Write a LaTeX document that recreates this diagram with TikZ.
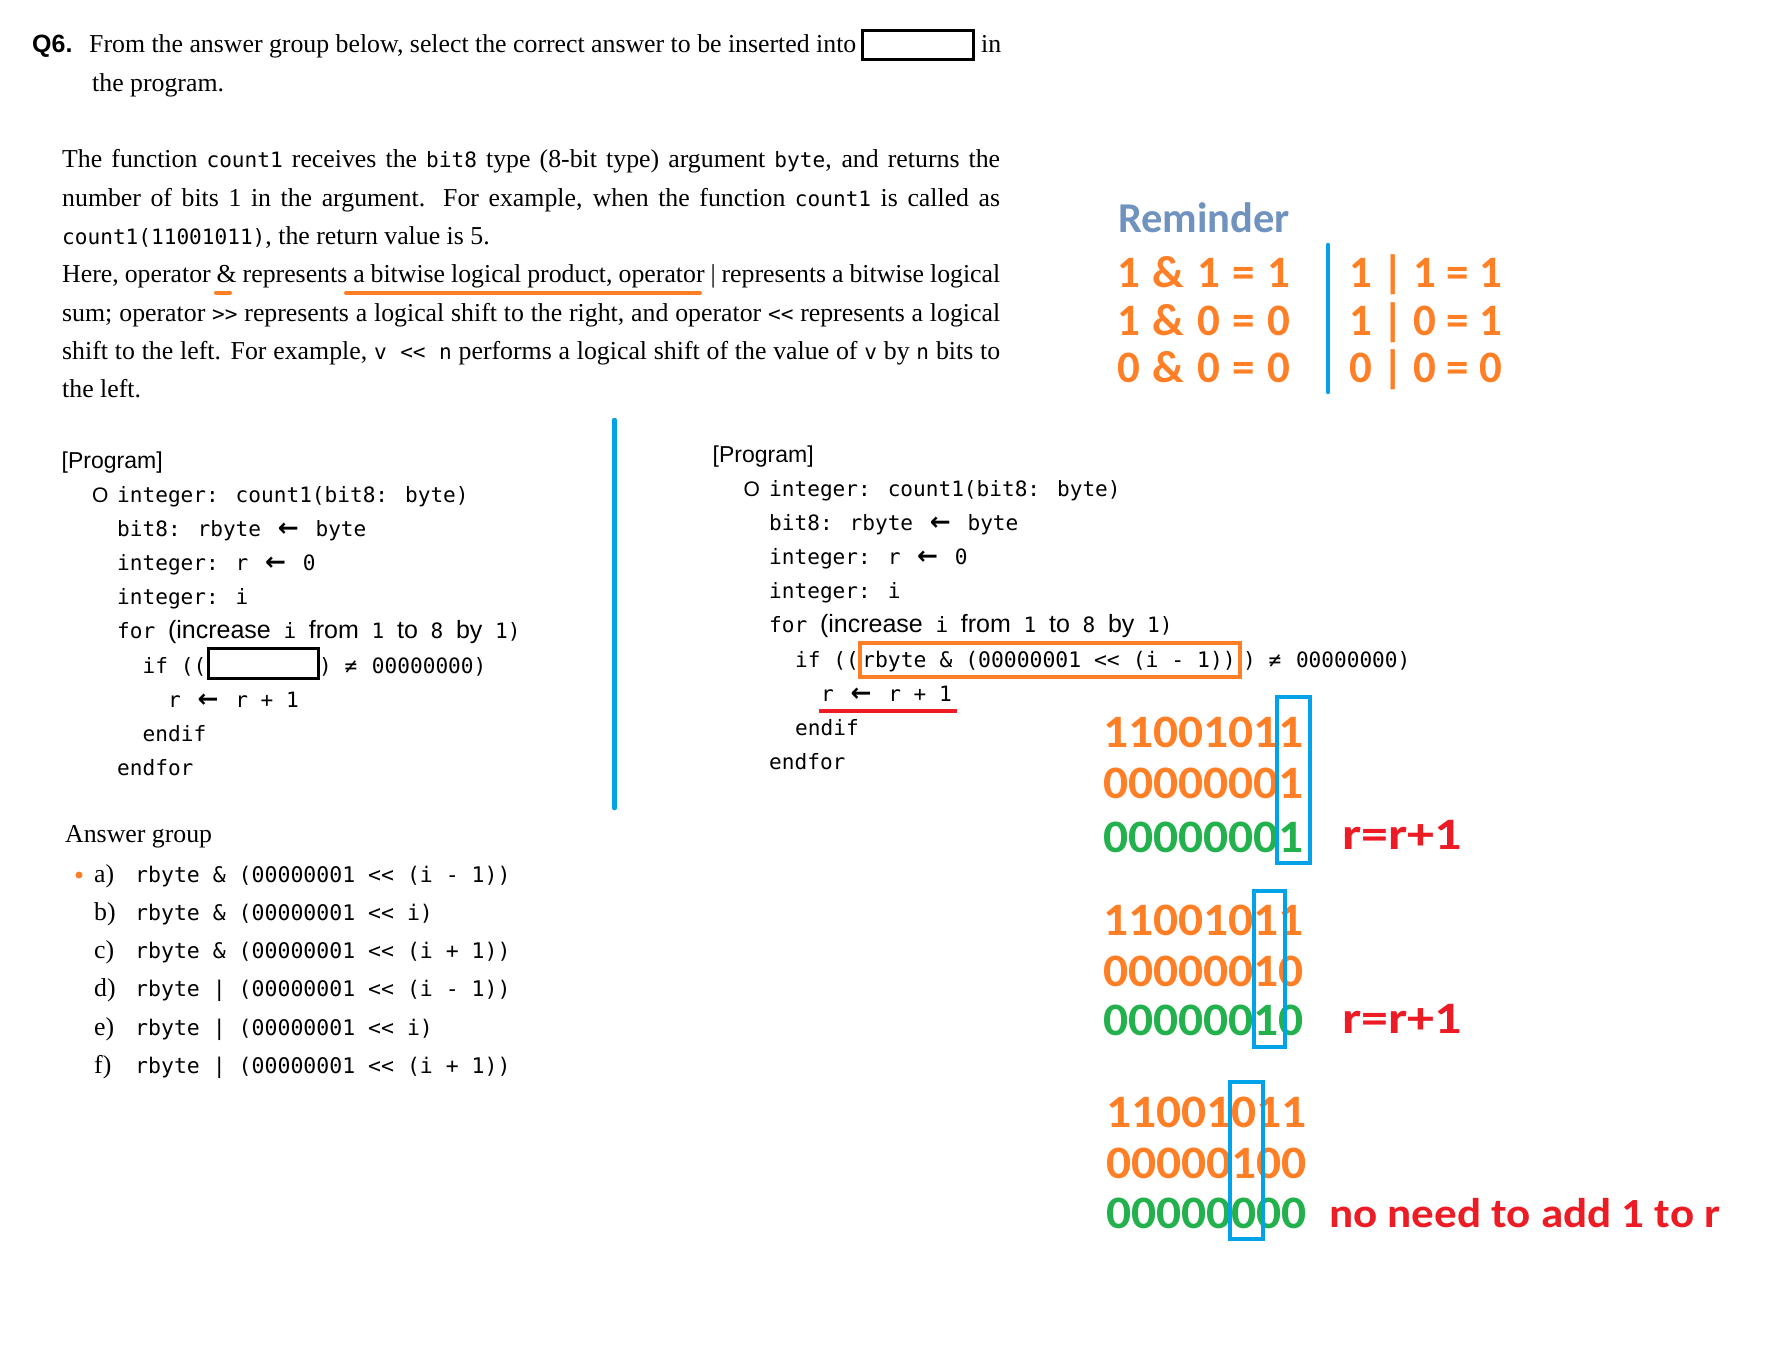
\documentclass[tikz,border=0pt]{standalone}
\usepackage{fontspec}
\setmainfont{Liberation Serif}
\newfontfamily\codefont{DejaVu Sans Mono}
\newfontfamily\arialfont{Liberation Sans}
\newfontfamily\arrowfont{DejaVu Sans}
\newfontfamily\calfont{Carlito}
\newfontfamily\calbits{Carlito}[FakeStretch=1.065]
\newfontfamily\calnote{Carlito}[FakeStretch=1.2]
\newfontfamily\calnotetwo{Carlito}[FakeStretch=1.085]
\definecolor{porange}{RGB}{255,127,39}
\definecolor{pblue}{RGB}{0,162,232}
\definecolor{pgreen}{RGB}{34,177,76}
\definecolor{pred}{RGB}{237,28,36}
\definecolor{pbluegray}{RGB}{112,146,190}
\newcommand\tsz{\fontsize{25.8}{30}\selectfont}
\newcommand\csz{\fontsize{21.1}{25}\selectfont}
\newcommand\mcode[1]{{\codefont\csz #1}}
\newcommand\msans[1]{{\arialfont\fontsize{25}{27}\selectfont #1}}
\newcommand\dlt{<\kern0pt<}
\newcommand\dgt{>\kern0pt>}
\newcommand\larr{\makebox[29pt]{\arrowfont\bfseries\fontsize{25}{26}\selectfont ←}}
\newcommand\rsp{\hspace{12.7pt}}
\tikzset{
 txt/.style={anchor=base west, inner sep=0pt, font=\tsz},
 code/.style={anchor=base west, inner sep=0pt, font=\codefont\csz},
 anscode/.style={code, font=\codefont\fontsize{21.5}{25}\selectfont},
 sanslbl/.style={anchor=base west, inner sep=0pt, font=\arialfont\fontsize{23}{26}\selectfont},
 circ/.style={anchor=base west, inner sep=0pt, font=\arialfont\fontsize{21}{24}\selectfont},
 qlbl/.style={anchor=base west, inner sep=0pt, font=\arialfont\bfseries\fontsize{25}{28}\selectfont},
 remtitle/.style={anchor=base west, inner sep=0pt, font=\calfont\bfseries\fontsize{42.5}{46}\selectfont, text=pbluegray},
 remind/.style={anchor=base west, inner sep=0pt, font=\calfont\bfseries\fontsize{45}{50}\selectfont, text=porange},
 bitso/.style={anchor=base west, inner sep=0pt, font=\calbits\bfseries\fontsize{46.5}{52}\selectfont, text=porange},
 bitsg/.style={bitso, text=pgreen},
 note/.style={anchor=base west, inner sep=0pt, font=\calnote\bfseries\fontsize{45}{54}\selectfont, text=pred},
 note2/.style={note, font=\calnotetwo\bfseries\fontsize{41.5}{48}\selectfont},
 blank/.style={draw=black, line width=3pt},
 colbox/.style={draw=pblue, line width=3.8pt},
 obox/.style={draw=porange, line width=3.5pt},
 oline/.style={draw=porange, line width=4pt, line cap=round},
 rline/.style={draw=pred, line width=3.5pt},
 divider/.style={draw=pblue, line width=4.5pt, line cap=round},
}
\begin{document}
\begin{tikzpicture}[x=1pt,y=-1pt]
\fill[white] (0,0) rectangle (1784,1372);
\useasboundingbox (0,0) rectangle (1784,1372);

% ---- Question line
\node[qlbl] (q6) at (32,53) {Q6.};
\node[txt] (q1) at (89,53) {From the answer group below, select the correct answer to be inserted into};
\draw[blank] (862,31) rectangle (973,60);
\node[txt] (qin) at (981,53) {in};
\node[txt] (q2) at (92,92) {the program.};

% ---- Body text
\node[txt] (b1) at (62,168) {\makebox[938pt][s]{The function \mcode{count1} receives the \mcode{bit8} type (8-bit type) argument \mcode{byte}, and returns the}};
\node[txt] (b2) at (62,206.3) {\makebox[938pt][s]{number of bits 1 in the argument. For example, when the function \mcode{count1} is called as}};
\node[txt] (b3) at (62,244.6) {\mcode{count1(11001011)}, the return value is 5.};
\node[txt] (b4) at (62,282.9) {\makebox[938pt][s]{Here, operator \& represents a bitwise logical product, operator | represents a bitwise logical}};
\node[txt] (b5) at (62,321.2) {\makebox[938pt][s]{sum; operator \mcode{\dgt} represents a logical shift to the right, and operator \mcode{\dlt} represents a logical}};
\node[txt] (b6) at (62,359.5) {\makebox[938pt][s]{shift to the left. For example, \mcode{v \dlt{} n} performs a logical shift of the value of \mcode{v} by \mcode{n} bits to}};
\node[txt] (b7) at (62,397.8) {the left.};
\draw[oline] (216,292.5) -- (230,292.5);
\draw[oline] (346,293) -- (700,293);

% ---- Reminder
\node[remtitle] (rem) at (1118,233) {Reminder};
\node[remind] (a1) at (1117,287) {1\rsp\&\rsp1\rsp=\rsp1};
\node[remind] (a2) at (1117,335) {1\rsp\&\rsp0\rsp=\rsp0};
\node[remind] (a3) at (1117,382) {0\rsp\&\rsp0\rsp=\rsp0};
\node[remind] (o1) at (1349,287) {1 | 1 = 1};
\node[remind] (o2) at (1349,335) {1 | 0 = 1};
\node[remind] (o3) at (1349,382) {0 | 0 = 0};
\draw[divider] (1328,245) -- (1328,392);

% ---- Divider between programs
\draw[divider] (614.5,420) -- (614.5,808);

% ---- Left program
\node[sanslbl] (lp) at (61.5,468) {[Program]};
\node[circ] (lo) at (92,502.5) {O};
\node[code] (l0) at (117,502.5) {integer: count1(bit8: byte)};
\node[code] (l1) at (117,536.6) {bit8: rbyte \larr{} byte};
\node[code] (l2) at (117,570.7) {integer: r \larr{} 0};
\node[code] (l3) at (117,604.8) {integer: i};
\node[code] (l4) at (117,638.9) {for \msans{(increase} i \msans{from} 1 \msans{to} 8 \msans{by} 1)};
\node[code] (l5a) at (142.5,673) {if ((};
\draw[blank] (208,648) rectangle (318,678);
\node[code] (l5b) at (319,673) {) ≠\kern2pt{} 00000000)};
\node[code] (l6) at (168,707.1) {r \larr{} r + 1};
\node[code] (l7) at (142.5,741.2) {endif};
\node[code] (l8) at (117,775.3) {endfor};

% ---- Right program
\node[sanslbl] (rp) at (712.5,462) {[Program]};
\node[circ] (ro) at (743.5,496.5) {O};
\node[code] (r0) at (769,496.5) {integer: count1(bit8: byte)};
\node[code] (r1) at (769,530.6) {bit8: rbyte \larr{} byte};
\node[code] (r2) at (769,564.7) {integer: r \larr{} 0};
\node[code] (r3) at (769,598.8) {integer: i};
\node[code] (r4) at (769,632.9) {for \msans{(increase} i \msans{from} 1 \msans{to} 8 \msans{by} 1)};
\node[code] (r5a) at (795,667) {if ((};
\node[code, font=\codefont\fontsize{21.4}{25}\selectfont] (r5b) at (862,667) {rbyte \& (00000001 \dlt{} (i - 1))};
\node[code] (r5c) at (1243,667) {) ≠\kern2pt{} 00000000)};
\draw[obox] (860,643) rectangle (1240,677);
\node[code] (r6) at (821,701.1) {r \larr{} r + 1};
\draw[rline] (819,711) -- (957,711);
\node[code] (r7) at (795,735.2) {endif};
\node[code] (r8) at (769,769.3) {endfor};

% ---- Answer group
\node[txt] (ag) at (65,842) {Answer group};
\fill[porange] (79,875) circle (3.5);
\node[txt] (la) at (94,882) {a)};
\node[txt] (lb) at (94,920.3) {b)};
\node[txt] (lc) at (94,958.6) {c)};
\node[txt] (ld) at (94,996.9) {d)};
\node[txt] (le) at (94,1035.2) {e)};
\node[txt] (lf) at (94,1073.5) {f)};
\node[anscode] (ca) at (135,882) {rbyte \& (00000001 \dlt{} (i - 1))};
\node[anscode] (cb) at (135,920.3) {rbyte \& (00000001 \dlt{} i)};
\node[anscode] (cc) at (135,958.6) {rbyte \& (00000001 \dlt{} (i + 1))};
\node[anscode] (cd) at (135,996.9) {rbyte | (00000001 \dlt{} (i - 1))};
\node[anscode] (ce) at (135,1035.2) {rbyte | (00000001 \dlt{} i)};
\node[anscode] (cf) at (135,1073.5) {rbyte | (00000001 \dlt{} (i + 1))};

% ---- Bit stacks
\node[bitso] (s1a) at (1103,747) {11001011};
\node[bitso] (s1b) at (1103,798) {00000001};
\node[bitsg] (s1c) at (1103,852) {00000001};
\node[note] (n1) at (1342,849) {r=r+1};
\draw[colbox] (1277,697) rectangle (1310,863);

\node[bitso] (s2a) at (1103,935) {11001011};
\node[bitso] (s2b) at (1103,986) {00000010};
\node[bitsg] (s2c) at (1103,1035) {00000010};
\node[note] (n2) at (1342,1033) {r=r+1};
\draw[colbox] (1254,891) rectangle (1285,1047);

\node[bitso] (s3a) at (1106,1127) {11001011};
\node[bitso] (s3b) at (1106,1178) {00000100};
\node[bitsg] (s3c) at (1106,1228) {00000000};
\node[note2] (n3) at (1329,1227) {no need to add 1 to r};
\draw[colbox] (1230,1082) rectangle (1263,1239);
\end{tikzpicture}
\end{document}
